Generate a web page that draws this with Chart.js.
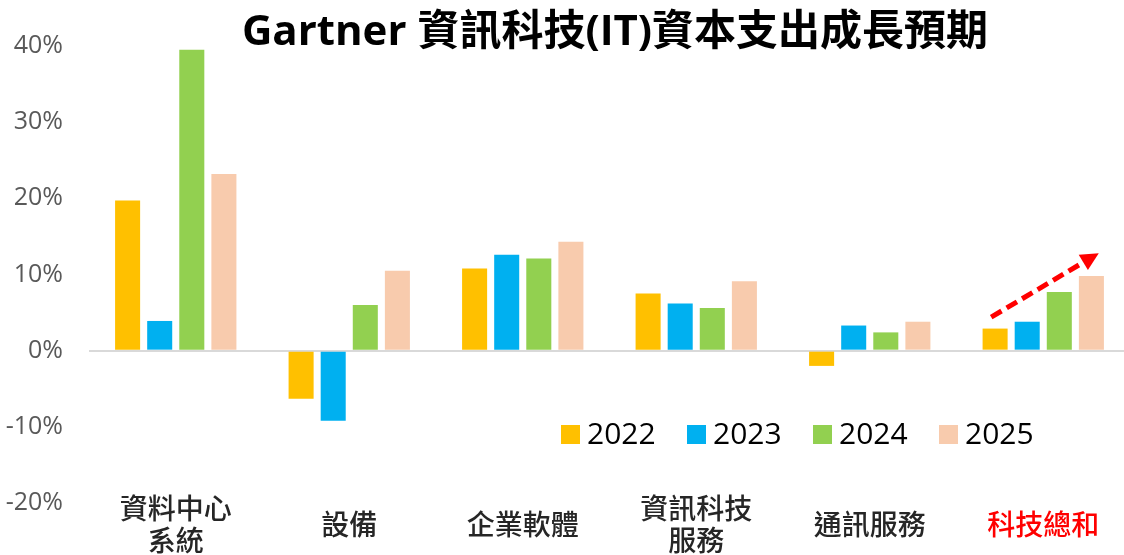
<!DOCTYPE html>
<html>
<head>
<meta charset="utf-8">
<script src="https://cdn.jsdelivr.net/npm/chart.js@4.4.1/dist/chart.umd.min.js"></script>
<style>
  html, body { margin: 0; padding: 0; background: #fff; overflow: hidden; }
  #wrap { width: 1132px; height: 555px; }
</style>
</head>
<body>
<div id="wrap"><canvas id="chart"></canvas></div>
<script>
const categories = [['資料中心', '系統'], '設備', '企業軟體', ['資訊科技', '服務'], '通訊服務', '科技總和'];
const years = ['2022', '2023', '2024', '2025'];
const growth2022 = [19.7, -6.3, 10.8, 7.5, -2.0, 2.9];
const growth2023 = [3.9, -9.2, 12.6, 6.2, 3.3, 3.8];
const growth2024 = [39.5, 6.0, 12.1, 5.6, 2.4, 7.7];
const growth2025 = [23.2, 10.5, 14.3, 9.1, 3.8, 9.8];
const yearColors = ['#FFC000', '#00B0F0', '#92D050', '#F8CBAD'];
// trend arrow over 科技總和: [category index, value %]
const arrowFrom = [4.70, 4.4];
const arrowTo = [5.32, 12.8];

const titleText = 'Gartner 資訊科技(IT)資本支出成長預期';
const latin = '"Open Sans", "Noto Sans CJK TC", sans-serif';
const labelLift = 16;

const titlePlugin = {
  id: 'titleText',
  afterDraw(chart) {
    const ctx = chart.ctx;
    ctx.save();
    ctx.font = 'bold 42px ' + latin;
    ctx.fillStyle = '#000';
    ctx.textAlign = 'center';
    ctx.textBaseline = 'middle';
    ctx.fillText(titleText, 615, 33);
    ctx.restore();
  }
};

// x labels are clipped to the scale box, so let the box reach a bit above the plot bottom
const liftLabels = {
  id: 'liftLabels',
  afterLayout(chart) {
    chart.scales.x.top -= labelLift;
  }
};

const legendPlugin = {
  id: 'bottomLegend',
  afterDraw(chart) {
    const ctx = chart.ctx;
    ctx.save();
    ctx.font = '30px ' + latin;
    ctx.textBaseline = 'middle';
    years.forEach((y, i) => {
      const x = 561 + i * 126;
      ctx.fillStyle = yearColors[i];
      ctx.fillRect(x, 425, 19, 19);
      ctx.fillStyle = '#000';
      ctx.fillText(y, x + 26, 435);
    });
    ctx.restore();
  }
};

const arrowPlugin = {
  id: 'trendArrow',
  afterDatasetsDraw(chart) {
    const xs = chart.scales.x, ys = chart.scales.y, ctx = chart.ctx;
    const x1 = xs.getPixelForValue(arrowFrom[0]), y1 = ys.getPixelForValue(arrowFrom[1]);
    const x2 = xs.getPixelForValue(arrowTo[0]), y2 = ys.getPixelForValue(arrowTo[1]);
    const ang = Math.atan2(y2 - y1, x2 - x1);
    const head = 18;
    const bx = x2 - head * Math.cos(ang), by = y2 - head * Math.sin(ang);
    ctx.save();
    ctx.strokeStyle = '#FF0000';
    ctx.fillStyle = '#FF0000';
    ctx.lineWidth = 5;
    ctx.setLineDash([12, 6]);
    ctx.beginPath();
    ctx.moveTo(x1, y1);
    ctx.lineTo(bx, by);
    ctx.stroke();
    ctx.setLineDash([]);
    ctx.beginPath();
    ctx.moveTo(x2, y2);
    ctx.lineTo(bx + 9 * Math.sin(ang), by - 9 * Math.cos(ang));
    ctx.lineTo(bx - 9 * Math.sin(ang), by + 9 * Math.cos(ang));
    ctx.closePath();
    ctx.fill();
    ctx.restore();
  }
};

const series = [growth2022, growth2023, growth2024, growth2025];

new Chart(document.getElementById('chart'), {
  type: 'bar',
  data: {
    labels: categories,
    datasets: series.map((d, i) => ({
      label: years[i],
      data: d,
      backgroundColor: yearColors[i],
      borderWidth: 0,
      categoryPercentage: 0.74,
      barPercentage: 0.78,
    }))
  },
  options: {
    responsive: true,
    maintainAspectRatio: false,
    animation: false,
    layout: { padding: { top: 46, right: 2, left: 0, bottom: 0 } },
    plugins: {
      legend: { display: false },
      title: { display: false },
      tooltip: { enabled: false },
    },
    scales: {
      x: {
        grid: { display: false },
        border: { display: false },
        ticks: {
          autoSkip: false,
          maxRotation: 0,
          padding: -3 + labelLift,
          crossAlign: 'center',
          font: { size: 28, family: '"Noto Sans CJK TC", sans-serif', weight: '500', lineHeight: 1.14 },
          color: (c) => c.index === 5 ? '#FF0000' : '#262626',
        },
        afterFit(scale) { scale.height = 52; },
      },
      y: {
        min: -20,
        max: 40,
        border: { display: false },
        grid: {
          drawTicks: false,
          lineWidth: 2,
          color: (c) => c.tick && c.tick.value === 0 ? '#D9D9D9' : 'rgba(0,0,0,0)',
        },
        ticks: {
          stepSize: 10,
          padding: 26,
          font: { size: 25, family: latin },
          color: '#595959',
          callback: (v) => v + '%',
        },
        afterFit(scale) { scale.width = 89; },
      }
    }
  },
  plugins: [liftLabels, titlePlugin, legendPlugin, arrowPlugin]
});
</script>
</body>
</html>
